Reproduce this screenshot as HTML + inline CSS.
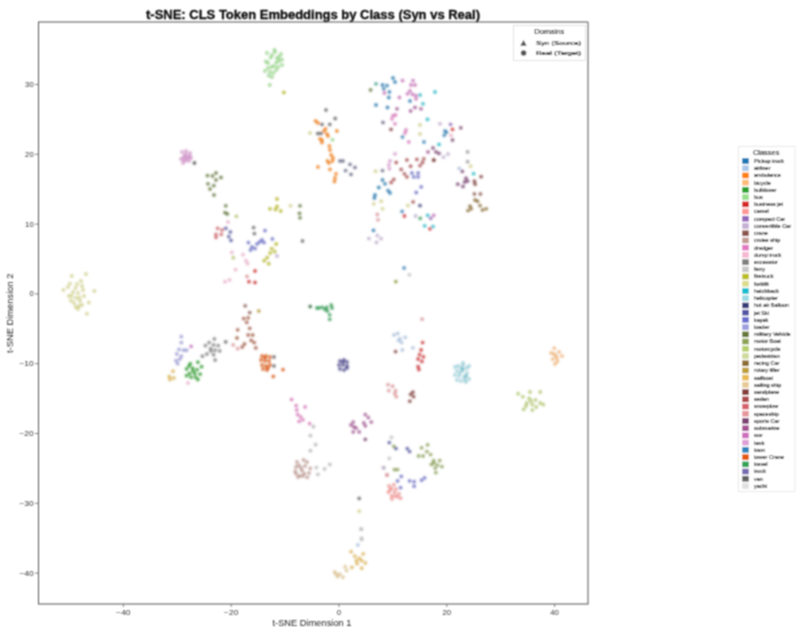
<!DOCTYPE html><html><head><meta charset="utf-8"><style>html,body{margin:0;padding:0;background:#fff;width:800px;height:638px;overflow:hidden}svg{display:block}text{font-family:"Liberation Sans", sans-serif}</style></head><body>
<svg width="800" height="638" viewBox="0 0 800 638">
<defs><filter id="bl" filterUnits="userSpaceOnUse" x="0" y="0" width="800" height="638"><feGaussianBlur stdDeviation="1.0"/></filter><filter id="tb" filterUnits="userSpaceOnUse" x="0" y="0" width="800" height="638"><feConvolveMatrix order="3" kernelMatrix="1 2 1 2 4 2 1 2 1" preserveAlpha="false" edgeMode="none"/></filter></defs>
<rect width="800" height="638" fill="#fff"/>
<g filter="url(#tb)">
<text x="313" y="18.8" font-size="12.5" font-weight="bold" text-anchor="middle" fill="#111" stroke="#111" stroke-width="0.35" textLength="334" lengthAdjust="spacingAndGlyphs">t-SNE: CLS Token Embeddings by Class (Syn vs Real)</text>
<path d="M38.5,22 V604 M38,22 H588 M588,22 V604 M38,604 H588.5" fill="none" stroke="#555" stroke-width="1"/>
<line x1="123.4" y1="604" x2="123.4" y2="607" stroke="#666" stroke-width="0.8"/>
<text x="123.4" y="614.8" font-size="6.8" text-anchor="middle" fill="#333" textLength="14.3" lengthAdjust="spacingAndGlyphs">−40</text>
<line x1="231.2" y1="604" x2="231.2" y2="607" stroke="#666" stroke-width="0.8"/>
<text x="231.2" y="614.8" font-size="6.8" text-anchor="middle" fill="#333" textLength="14.3" lengthAdjust="spacingAndGlyphs">−20</text>
<line x1="339.0" y1="604" x2="339.0" y2="607" stroke="#666" stroke-width="0.8"/>
<text x="339.0" y="614.8" font-size="6.8" text-anchor="middle" fill="#333" textLength="4.3" lengthAdjust="spacingAndGlyphs">0</text>
<line x1="446.8" y1="604" x2="446.8" y2="607" stroke="#666" stroke-width="0.8"/>
<text x="446.8" y="614.8" font-size="6.8" text-anchor="middle" fill="#333" textLength="8.6" lengthAdjust="spacingAndGlyphs">20</text>
<line x1="554.6" y1="604" x2="554.6" y2="607" stroke="#666" stroke-width="0.8"/>
<text x="554.6" y="614.8" font-size="6.8" text-anchor="middle" fill="#333" textLength="8.6" lengthAdjust="spacingAndGlyphs">40</text>
<line x1="35" y1="84.5" x2="38.5" y2="84.5" stroke="#666" stroke-width="0.8"/>
<text x="25.1" y="86.9" font-size="6.8" fill="#333" textLength="8.6" lengthAdjust="spacingAndGlyphs">30</text>
<line x1="35" y1="154.3" x2="38.5" y2="154.3" stroke="#666" stroke-width="0.8"/>
<text x="25.1" y="156.7" font-size="6.8" fill="#333" textLength="8.6" lengthAdjust="spacingAndGlyphs">20</text>
<line x1="35" y1="224.1" x2="38.5" y2="224.1" stroke="#666" stroke-width="0.8"/>
<text x="25.1" y="226.5" font-size="6.8" fill="#333" textLength="8.6" lengthAdjust="spacingAndGlyphs">10</text>
<line x1="35" y1="293.9" x2="38.5" y2="293.9" stroke="#666" stroke-width="0.8"/>
<text x="29.4" y="296.3" font-size="6.8" fill="#333" textLength="4.3" lengthAdjust="spacingAndGlyphs">0</text>
<line x1="35" y1="363.7" x2="38.5" y2="363.7" stroke="#666" stroke-width="0.8"/>
<text x="19.4" y="366.1" font-size="6.8" fill="#333" textLength="14.3" lengthAdjust="spacingAndGlyphs">−10</text>
<line x1="35" y1="433.5" x2="38.5" y2="433.5" stroke="#666" stroke-width="0.8"/>
<text x="19.4" y="435.9" font-size="6.8" fill="#333" textLength="14.3" lengthAdjust="spacingAndGlyphs">−20</text>
<line x1="35" y1="503.3" x2="38.5" y2="503.3" stroke="#666" stroke-width="0.8"/>
<text x="19.4" y="505.7" font-size="6.8" fill="#333" textLength="14.3" lengthAdjust="spacingAndGlyphs">−30</text>
<line x1="35" y1="573.1" x2="38.5" y2="573.1" stroke="#666" stroke-width="0.8"/>
<text x="19.4" y="575.5" font-size="6.8" fill="#333" textLength="14.3" lengthAdjust="spacingAndGlyphs">−40</text>
<text x="312" y="626" font-size="8.6" text-anchor="middle" fill="#222" textLength="79" lengthAdjust="spacingAndGlyphs">t-SNE Dimension 1</text>
<text x="0" y="0" font-size="8.6" text-anchor="middle" fill="#222" textLength="79.5" lengthAdjust="spacingAndGlyphs" transform="translate(13,313.3) rotate(-90)">t-SNE Dimension 2</text>
<rect x="513.5" y="25.5" width="72" height="35" fill="#fff" stroke="#ddd" stroke-width="0.8"/>
<text x="549.2" y="34.3" font-size="6.5" text-anchor="middle" fill="#111" stroke="#111" stroke-width="0.12" textLength="30" lengthAdjust="spacingAndGlyphs">Domains</text>
<path d="M523.5,40 L526.7,45.8 L520.3,45.8 Z" fill="#555"/>
<circle cx="523.6" cy="53" r="2.8" fill="#555"/>
<text x="536" y="45" font-size="6.2" fill="#111" stroke="#111" stroke-width="0.22" textLength="45" lengthAdjust="spacingAndGlyphs">Syn (Source)</text>
<text x="536" y="55" font-size="6.2" fill="#111" stroke="#111" stroke-width="0.22" textLength="45" lengthAdjust="spacingAndGlyphs">Real (Target)</text>
<rect x="738.5" y="146.5" width="56.5" height="345" fill="#fff" stroke="#e4e4e4" stroke-width="0.8"/>
<text x="766.2" y="155.4" font-size="6.5" text-anchor="middle" fill="#111" stroke="#111" stroke-width="0.12" textLength="26.5" lengthAdjust="spacingAndGlyphs">Classes</text>
<rect x="742.2" y="158.20" width="6.6" height="5.6" fill="#1f77b4"/>
<text x="754" y="162.90" font-size="5.5" fill="#111" stroke="#111" stroke-width="0.15">Pickup truck</text>
<rect x="742.2" y="165.42" width="6.6" height="5.6" fill="#aec7e8"/>
<text x="754" y="170.12" font-size="5.5" fill="#111" stroke="#111" stroke-width="0.15">airliner</text>
<rect x="742.2" y="172.64" width="6.6" height="5.6" fill="#ff7f0e"/>
<text x="754" y="177.34" font-size="5.5" fill="#111" stroke="#111" stroke-width="0.15">ambulance</text>
<rect x="742.2" y="179.87" width="6.6" height="5.6" fill="#ffbb78"/>
<text x="754" y="184.57" font-size="5.5" fill="#111" stroke="#111" stroke-width="0.15">bicycle</text>
<rect x="742.2" y="187.09" width="6.6" height="5.6" fill="#2ca02c"/>
<text x="754" y="191.79" font-size="5.5" fill="#111" stroke="#111" stroke-width="0.15">bulldozer</text>
<rect x="742.2" y="194.31" width="6.6" height="5.6" fill="#98df8a"/>
<text x="754" y="199.01" font-size="5.5" fill="#111" stroke="#111" stroke-width="0.15">bus</text>
<rect x="742.2" y="201.53" width="6.6" height="5.6" fill="#d62728"/>
<text x="754" y="206.23" font-size="5.5" fill="#111" stroke="#111" stroke-width="0.15">business jet</text>
<rect x="742.2" y="208.75" width="6.6" height="5.6" fill="#ff9896"/>
<text x="754" y="213.45" font-size="5.5" fill="#111" stroke="#111" stroke-width="0.15">camel</text>
<rect x="742.2" y="215.98" width="6.6" height="5.6" fill="#9467bd"/>
<text x="754" y="220.68" font-size="5.5" fill="#111" stroke="#111" stroke-width="0.15">compact Car</text>
<rect x="742.2" y="223.20" width="6.6" height="5.6" fill="#c5b0d5"/>
<text x="754" y="227.90" font-size="5.5" fill="#111" stroke="#111" stroke-width="0.15">convertible Car</text>
<rect x="742.2" y="230.42" width="6.6" height="5.6" fill="#8c564b"/>
<text x="754" y="235.12" font-size="5.5" fill="#111" stroke="#111" stroke-width="0.15">crane</text>
<rect x="742.2" y="237.64" width="6.6" height="5.6" fill="#c49c94"/>
<text x="754" y="242.34" font-size="5.5" fill="#111" stroke="#111" stroke-width="0.15">cruise ship</text>
<rect x="742.2" y="244.86" width="6.6" height="5.6" fill="#e377c2"/>
<text x="754" y="249.56" font-size="5.5" fill="#111" stroke="#111" stroke-width="0.15">dredger</text>
<rect x="742.2" y="252.09" width="6.6" height="5.6" fill="#f7b6d2"/>
<text x="754" y="256.79" font-size="5.5" fill="#111" stroke="#111" stroke-width="0.15">dump truck</text>
<rect x="742.2" y="259.31" width="6.6" height="5.6" fill="#7f7f7f"/>
<text x="754" y="264.01" font-size="5.5" fill="#111" stroke="#111" stroke-width="0.15">excavator</text>
<rect x="742.2" y="266.53" width="6.6" height="5.6" fill="#c7c7c7"/>
<text x="754" y="271.23" font-size="5.5" fill="#111" stroke="#111" stroke-width="0.15">ferry</text>
<rect x="742.2" y="273.75" width="6.6" height="5.6" fill="#bcbd22"/>
<text x="754" y="278.45" font-size="5.5" fill="#111" stroke="#111" stroke-width="0.15">firetruck</text>
<rect x="742.2" y="280.97" width="6.6" height="5.6" fill="#dbdb8d"/>
<text x="754" y="285.67" font-size="5.5" fill="#111" stroke="#111" stroke-width="0.15">forklift</text>
<rect x="742.2" y="288.20" width="6.6" height="5.6" fill="#17becf"/>
<text x="754" y="292.90" font-size="5.5" fill="#111" stroke="#111" stroke-width="0.15">hatchback</text>
<rect x="742.2" y="295.42" width="6.6" height="5.6" fill="#9edae5"/>
<text x="754" y="300.12" font-size="5.5" fill="#111" stroke="#111" stroke-width="0.15">helicopter</text>
<rect x="742.2" y="302.64" width="6.6" height="5.6" fill="#393b79"/>
<text x="754" y="307.34" font-size="5.5" fill="#111" stroke="#111" stroke-width="0.15">hot air Balloon</text>
<rect x="742.2" y="309.86" width="6.6" height="5.6" fill="#5254a3"/>
<text x="754" y="314.56" font-size="5.5" fill="#111" stroke="#111" stroke-width="0.15">jet Ski</text>
<rect x="742.2" y="317.08" width="6.6" height="5.6" fill="#6b6ecf"/>
<text x="754" y="321.78" font-size="5.5" fill="#111" stroke="#111" stroke-width="0.15">kayak</text>
<rect x="742.2" y="324.31" width="6.6" height="5.6" fill="#9c9ede"/>
<text x="754" y="329.01" font-size="5.5" fill="#111" stroke="#111" stroke-width="0.15">loader</text>
<rect x="742.2" y="331.53" width="6.6" height="5.6" fill="#637939"/>
<text x="754" y="336.23" font-size="5.5" fill="#111" stroke="#111" stroke-width="0.15">military Vehicle</text>
<rect x="742.2" y="338.75" width="6.6" height="5.6" fill="#8ca252"/>
<text x="754" y="343.45" font-size="5.5" fill="#111" stroke="#111" stroke-width="0.15">motor Boat</text>
<rect x="742.2" y="345.97" width="6.6" height="5.6" fill="#b5cf6b"/>
<text x="754" y="350.67" font-size="5.5" fill="#111" stroke="#111" stroke-width="0.15">motorcycle</text>
<rect x="742.2" y="353.19" width="6.6" height="5.6" fill="#cedb9c"/>
<text x="754" y="357.89" font-size="5.5" fill="#111" stroke="#111" stroke-width="0.15">pedestrian</text>
<rect x="742.2" y="360.42" width="6.6" height="5.6" fill="#8c6d31"/>
<text x="754" y="365.12" font-size="5.5" fill="#111" stroke="#111" stroke-width="0.15">racing Car</text>
<rect x="742.2" y="367.64" width="6.6" height="5.6" fill="#bd9e39"/>
<text x="754" y="372.34" font-size="5.5" fill="#111" stroke="#111" stroke-width="0.15">rotary tiller</text>
<rect x="742.2" y="374.86" width="6.6" height="5.6" fill="#e7ba52"/>
<text x="754" y="379.56" font-size="5.5" fill="#111" stroke="#111" stroke-width="0.15">sailboat</text>
<rect x="742.2" y="382.08" width="6.6" height="5.6" fill="#e7cb94"/>
<text x="754" y="386.78" font-size="5.5" fill="#111" stroke="#111" stroke-width="0.15">sailing ship</text>
<rect x="742.2" y="389.30" width="6.6" height="5.6" fill="#843c39"/>
<text x="754" y="394.00" font-size="5.5" fill="#111" stroke="#111" stroke-width="0.15">sandplane</text>
<rect x="742.2" y="396.53" width="6.6" height="5.6" fill="#ad494a"/>
<text x="754" y="401.23" font-size="5.5" fill="#111" stroke="#111" stroke-width="0.15">sedan</text>
<rect x="742.2" y="403.75" width="6.6" height="5.6" fill="#d6616b"/>
<text x="754" y="408.45" font-size="5.5" fill="#111" stroke="#111" stroke-width="0.15">snowplow</text>
<rect x="742.2" y="410.97" width="6.6" height="5.6" fill="#e7969c"/>
<text x="754" y="415.67" font-size="5.5" fill="#111" stroke="#111" stroke-width="0.15">spaceship</text>
<rect x="742.2" y="418.19" width="6.6" height="5.6" fill="#7b4173"/>
<text x="754" y="422.89" font-size="5.5" fill="#111" stroke="#111" stroke-width="0.15">sports Car</text>
<rect x="742.2" y="425.41" width="6.6" height="5.6" fill="#a55194"/>
<text x="754" y="430.11" font-size="5.5" fill="#111" stroke="#111" stroke-width="0.15">submarine</text>
<rect x="742.2" y="432.64" width="6.6" height="5.6" fill="#ce6dbd"/>
<text x="754" y="437.34" font-size="5.5" fill="#111" stroke="#111" stroke-width="0.15">suv</text>
<rect x="742.2" y="439.86" width="6.6" height="5.6" fill="#de9ed6"/>
<text x="754" y="444.56" font-size="5.5" fill="#111" stroke="#111" stroke-width="0.15">tank</text>
<rect x="742.2" y="447.08" width="6.6" height="5.6" fill="#3182bd"/>
<text x="754" y="451.78" font-size="5.5" fill="#111" stroke="#111" stroke-width="0.15">tram</text>
<rect x="742.2" y="454.30" width="6.6" height="5.6" fill="#e6550d"/>
<text x="754" y="459.00" font-size="5.5" fill="#111" stroke="#111" stroke-width="0.15">tower Crane</text>
<rect x="742.2" y="461.52" width="6.6" height="5.6" fill="#31a354"/>
<text x="754" y="466.22" font-size="5.5" fill="#111" stroke="#111" stroke-width="0.15">travel</text>
<rect x="742.2" y="468.75" width="6.6" height="5.6" fill="#756bb1"/>
<text x="754" y="473.45" font-size="5.5" fill="#111" stroke="#111" stroke-width="0.15">truck</text>
<rect x="742.2" y="475.97" width="6.6" height="5.6" fill="#636363"/>
<text x="754" y="480.67" font-size="5.5" fill="#111" stroke="#111" stroke-width="0.15">van</text>
<rect x="742.2" y="483.19" width="6.6" height="5.6" fill="#e0e0e0"/>
<text x="754" y="487.89" font-size="5.5" fill="#111" stroke="#111" stroke-width="0.15">yacht</text>
</g>
<g filter="url(#bl)" fill-opacity="0.85" stroke-width="0.5" stroke-opacity="0.35">
<circle cx="274.5" cy="50.0" r="1.65" fill="#98df8a" stroke="#5b8552"/>
<circle cx="267.0" cy="53.0" r="1.65" fill="#98df8a" stroke="#5b8552"/>
<circle cx="281.0" cy="54.0" r="1.65" fill="#98df8a" stroke="#5b8552"/>
<circle cx="270.7" cy="57.7" r="1.65" fill="#98df8a" stroke="#5b8552"/>
<circle cx="282.0" cy="59.6" r="1.65" fill="#98df8a" stroke="#5b8552"/>
<circle cx="266.0" cy="61.5" r="1.65" fill="#98df8a" stroke="#5b8552"/>
<circle cx="276.3" cy="62.4" r="1.65" fill="#98df8a" stroke="#5b8552"/>
<circle cx="282.0" cy="65.0" r="1.65" fill="#98df8a" stroke="#5b8552"/>
<circle cx="271.6" cy="67.0" r="1.65" fill="#98df8a" stroke="#5b8552"/>
<circle cx="265.0" cy="71.0" r="1.65" fill="#98df8a" stroke="#5b8552"/>
<circle cx="276.3" cy="70.0" r="1.65" fill="#98df8a" stroke="#5b8552"/>
<circle cx="268.8" cy="75.6" r="1.65" fill="#98df8a" stroke="#5b8552"/>
<circle cx="273.5" cy="72.8" r="1.65" fill="#98df8a" stroke="#5b8552"/>
<circle cx="279.0" cy="56.8" r="1.65" fill="#98df8a" stroke="#5b8552"/>
<circle cx="269.8" cy="85.0" r="1.65" fill="#98df8a" stroke="#5b8552"/>
<circle cx="272.0" cy="55.0" r="1.65" fill="#98df8a" stroke="#5b8552"/>
<circle cx="277.0" cy="58.0" r="1.65" fill="#98df8a" stroke="#5b8552"/>
<circle cx="274.0" cy="66.0" r="1.65" fill="#98df8a" stroke="#5b8552"/>
<circle cx="268.0" cy="63.0" r="1.65" fill="#98df8a" stroke="#5b8552"/>
<circle cx="278.0" cy="67.0" r="1.65" fill="#98df8a" stroke="#5b8552"/>
<circle cx="270.0" cy="72.0" r="1.65" fill="#98df8a" stroke="#5b8552"/>
<circle cx="272.0" cy="77.0" r="1.65" fill="#98df8a" stroke="#5b8552"/>
<circle cx="279.0" cy="61.0" r="1.65" fill="#98df8a" stroke="#5b8552"/>
<circle cx="275.0" cy="52.0" r="1.65" fill="#98df8a" stroke="#5b8552"/>
<circle cx="268.0" cy="68.0" r="1.65" fill="#98df8a" stroke="#5b8552"/>
<circle cx="283.9" cy="92.5" r="1.65" fill="#bcbd22" stroke="#707114"/>
<circle cx="326.0" cy="110.0" r="1.65" fill="#636363" stroke="#3b3b3b"/>
<circle cx="335.2" cy="118.5" r="1.65" fill="#636363" stroke="#3b3b3b"/>
<circle cx="322.0" cy="124.4" r="1.65" fill="#636363" stroke="#3b3b3b"/>
<circle cx="329.8" cy="124.4" r="1.65" fill="#636363" stroke="#3b3b3b"/>
<circle cx="317.8" cy="133.5" r="1.65" fill="#636363" stroke="#3b3b3b"/>
<circle cx="321.0" cy="133.5" r="1.65" fill="#636363" stroke="#3b3b3b"/>
<circle cx="315.6" cy="121.0" r="1.65" fill="#ff7f0e" stroke="#994c08"/>
<circle cx="325.6" cy="128.8" r="1.65" fill="#ff7f0e" stroke="#994c08"/>
<circle cx="336.9" cy="131.0" r="1.65" fill="#ff7f0e" stroke="#994c08"/>
<circle cx="326.9" cy="133.8" r="1.65" fill="#ff7f0e" stroke="#994c08"/>
<circle cx="320.0" cy="138.8" r="1.65" fill="#ff7f0e" stroke="#994c08"/>
<circle cx="321.9" cy="142.5" r="1.65" fill="#ff7f0e" stroke="#994c08"/>
<circle cx="329.4" cy="146.0" r="1.65" fill="#ff7f0e" stroke="#994c08"/>
<circle cx="331.2" cy="155.0" r="1.65" fill="#ff7f0e" stroke="#994c08"/>
<circle cx="327.5" cy="161.0" r="1.65" fill="#ff7f0e" stroke="#994c08"/>
<circle cx="332.5" cy="161.0" r="1.65" fill="#ff7f0e" stroke="#994c08"/>
<circle cx="318.0" cy="167.0" r="1.65" fill="#ff7f0e" stroke="#994c08"/>
<circle cx="330.0" cy="169.4" r="1.65" fill="#ff7f0e" stroke="#994c08"/>
<circle cx="336.0" cy="173.8" r="1.65" fill="#ff7f0e" stroke="#994c08"/>
<circle cx="335.0" cy="178.0" r="1.65" fill="#ff7f0e" stroke="#994c08"/>
<circle cx="318.0" cy="123.0" r="1.65" fill="#ff7f0e" stroke="#994c08"/>
<circle cx="324.0" cy="131.0" r="1.65" fill="#ff7f0e" stroke="#994c08"/>
<circle cx="322.0" cy="140.0" r="1.65" fill="#ff7f0e" stroke="#994c08"/>
<circle cx="330.0" cy="150.0" r="1.65" fill="#ff7f0e" stroke="#994c08"/>
<circle cx="333.0" cy="158.0" r="1.65" fill="#ff7f0e" stroke="#994c08"/>
<circle cx="329.0" cy="163.0" r="1.65" fill="#ff7f0e" stroke="#994c08"/>
<circle cx="328.0" cy="136.0" r="1.65" fill="#ff7f0e" stroke="#994c08"/>
<circle cx="310.0" cy="133.0" r="1.65" fill="#dbdb8d" stroke="#838354"/>
<circle cx="332.5" cy="139.8" r="1.65" fill="#98df8a" stroke="#5b8552"/>
<circle cx="340.0" cy="161.0" r="1.65" fill="#666a88" stroke="#3d3f51"/>
<circle cx="343.0" cy="161.0" r="1.65" fill="#666a88" stroke="#3d3f51"/>
<circle cx="350.0" cy="164.4" r="1.65" fill="#666a88" stroke="#3d3f51"/>
<circle cx="355.0" cy="167.5" r="1.65" fill="#666a88" stroke="#3d3f51"/>
<circle cx="345.6" cy="170.6" r="1.65" fill="#666a88" stroke="#3d3f51"/>
<circle cx="351.0" cy="174.4" r="1.65" fill="#666a88" stroke="#3d3f51"/>
<circle cx="370.6" cy="90.0" r="1.65" fill="#637939" stroke="#3b4822"/>
<circle cx="376.0" cy="83.8" r="1.65" fill="#3aa58a" stroke="#226352"/>
<circle cx="393.0" cy="78.0" r="1.65" fill="#1f77b4" stroke="#12476c"/>
<circle cx="395.0" cy="82.0" r="1.65" fill="#1f77b4" stroke="#12476c"/>
<circle cx="382.5" cy="85.0" r="1.65" fill="#1f77b4" stroke="#12476c"/>
<circle cx="387.0" cy="85.6" r="1.65" fill="#1f77b4" stroke="#12476c"/>
<circle cx="383.8" cy="88.8" r="1.65" fill="#1f77b4" stroke="#12476c"/>
<circle cx="389.4" cy="92.0" r="1.65" fill="#1f77b4" stroke="#12476c"/>
<circle cx="388.8" cy="97.5" r="1.65" fill="#1f77b4" stroke="#12476c"/>
<circle cx="376.0" cy="105.0" r="1.65" fill="#1f77b4" stroke="#12476c"/>
<circle cx="387.5" cy="107.5" r="1.65" fill="#1f77b4" stroke="#12476c"/>
<circle cx="410.0" cy="101.0" r="1.65" fill="#1f77b4" stroke="#12476c"/>
<circle cx="383.0" cy="122.5" r="1.65" fill="#666a88" stroke="#3d3f51"/>
<circle cx="402.5" cy="80.6" r="1.65" fill="#ce6dbd" stroke="#7b4171"/>
<circle cx="413.0" cy="80.6" r="1.65" fill="#ce6dbd" stroke="#7b4171"/>
<circle cx="411.0" cy="85.0" r="1.65" fill="#ce6dbd" stroke="#7b4171"/>
<circle cx="415.0" cy="85.0" r="1.65" fill="#ce6dbd" stroke="#7b4171"/>
<circle cx="407.5" cy="93.8" r="1.65" fill="#ce6dbd" stroke="#7b4171"/>
<circle cx="412.5" cy="94.4" r="1.65" fill="#ce6dbd" stroke="#7b4171"/>
<circle cx="416.0" cy="95.6" r="1.65" fill="#ce6dbd" stroke="#7b4171"/>
<circle cx="410.0" cy="91.0" r="1.65" fill="#ce6dbd" stroke="#7b4171"/>
<circle cx="399.4" cy="97.5" r="1.65" fill="#ce6dbd" stroke="#7b4171"/>
<circle cx="416.0" cy="98.8" r="1.65" fill="#ce6dbd" stroke="#7b4171"/>
<circle cx="384.4" cy="93.0" r="1.65" fill="#ce6dbd" stroke="#7b4171"/>
<circle cx="397.0" cy="108.8" r="1.65" fill="#a55194" stroke="#633058"/>
<circle cx="415.0" cy="107.5" r="1.65" fill="#a55194" stroke="#633058"/>
<circle cx="421.0" cy="108.8" r="1.65" fill="#a55194" stroke="#633058"/>
<circle cx="410.6" cy="111.0" r="1.65" fill="#a55194" stroke="#633058"/>
<circle cx="393.0" cy="115.6" r="1.65" fill="#e377c2" stroke="#884774"/>
<circle cx="395.6" cy="115.0" r="1.65" fill="#e377c2" stroke="#884774"/>
<circle cx="392.0" cy="118.8" r="1.65" fill="#e377c2" stroke="#884774"/>
<circle cx="395.0" cy="123.8" r="1.65" fill="#e377c2" stroke="#884774"/>
<circle cx="406.0" cy="130.0" r="1.65" fill="#e377c2" stroke="#884774"/>
<circle cx="405.0" cy="133.0" r="1.65" fill="#e377c2" stroke="#884774"/>
<circle cx="408.8" cy="142.0" r="1.65" fill="#e377c2" stroke="#884774"/>
<circle cx="420.0" cy="95.0" r="1.65" fill="#17becf" stroke="#0d727c"/>
<circle cx="423.0" cy="103.8" r="1.65" fill="#17becf" stroke="#0d727c"/>
<circle cx="427.5" cy="119.4" r="1.65" fill="#17becf" stroke="#0d727c"/>
<circle cx="435.0" cy="92.0" r="1.65" fill="#17becf" stroke="#0d727c"/>
<circle cx="391.0" cy="129.4" r="1.65" fill="#843c39" stroke="#4f2422"/>
<circle cx="420.0" cy="125.0" r="1.65" fill="#dbdb8d" stroke="#838354"/>
<circle cx="420.0" cy="134.0" r="1.65" fill="#dbdb8d" stroke="#838354"/>
<circle cx="402.5" cy="137.0" r="1.65" fill="#3182bd" stroke="#1d4e71"/>
<circle cx="424.0" cy="142.0" r="1.65" fill="#3182bd" stroke="#1d4e71"/>
<circle cx="440.0" cy="123.8" r="1.65" fill="#c5b0d5" stroke="#76697f"/>
<circle cx="450.6" cy="124.4" r="1.65" fill="#9467bd" stroke="#583d71"/>
<circle cx="445.0" cy="131.0" r="1.65" fill="#3182bd" stroke="#1d4e71"/>
<circle cx="452.5" cy="129.4" r="1.65" fill="#d62728" stroke="#801718"/>
<circle cx="452.5" cy="140.0" r="1.65" fill="#7b4173" stroke="#492745"/>
<circle cx="182.0" cy="152.0" r="1.65" fill="#de9ed6" stroke="#855e80"/>
<circle cx="186.0" cy="151.0" r="1.65" fill="#de9ed6" stroke="#855e80"/>
<circle cx="190.0" cy="153.0" r="1.65" fill="#de9ed6" stroke="#855e80"/>
<circle cx="184.0" cy="156.0" r="1.65" fill="#de9ed6" stroke="#855e80"/>
<circle cx="188.0" cy="157.0" r="1.65" fill="#de9ed6" stroke="#855e80"/>
<circle cx="181.0" cy="159.0" r="1.65" fill="#de9ed6" stroke="#855e80"/>
<circle cx="185.0" cy="161.0" r="1.65" fill="#de9ed6" stroke="#855e80"/>
<circle cx="189.0" cy="161.0" r="1.65" fill="#de9ed6" stroke="#855e80"/>
<circle cx="183.0" cy="163.0" r="1.65" fill="#de9ed6" stroke="#855e80"/>
<circle cx="191.0" cy="158.0" r="1.65" fill="#de9ed6" stroke="#855e80"/>
<circle cx="194.4" cy="163.0" r="1.65" fill="#444444" stroke="#282828"/>
<circle cx="216.0" cy="173.0" r="1.65" fill="#637939" stroke="#3b4822"/>
<circle cx="207.5" cy="175.6" r="1.65" fill="#637939" stroke="#3b4822"/>
<circle cx="212.5" cy="176.0" r="1.65" fill="#637939" stroke="#3b4822"/>
<circle cx="221.0" cy="177.5" r="1.65" fill="#637939" stroke="#3b4822"/>
<circle cx="216.0" cy="180.0" r="1.65" fill="#637939" stroke="#3b4822"/>
<circle cx="208.0" cy="183.8" r="1.65" fill="#637939" stroke="#3b4822"/>
<circle cx="213.8" cy="185.6" r="1.65" fill="#637939" stroke="#3b4822"/>
<circle cx="210.0" cy="189.0" r="1.65" fill="#637939" stroke="#3b4822"/>
<circle cx="214.0" cy="195.0" r="1.65" fill="#637939" stroke="#3b4822"/>
<circle cx="225.8" cy="205.8" r="1.65" fill="#637939" stroke="#3b4822"/>
<circle cx="225.0" cy="212.6" r="1.65" fill="#637939" stroke="#3b4822"/>
<circle cx="227.3" cy="214.0" r="1.65" fill="#637939" stroke="#3b4822"/>
<circle cx="236.4" cy="216.3" r="1.65" fill="#b5cf6b" stroke="#6c7c40"/>
<circle cx="277.0" cy="199.0" r="1.65" fill="#bcbd22" stroke="#707114"/>
<circle cx="270.0" cy="208.8" r="1.65" fill="#bcbd22" stroke="#707114"/>
<circle cx="277.0" cy="206.5" r="1.65" fill="#bcbd22" stroke="#707114"/>
<circle cx="280.7" cy="211.0" r="1.65" fill="#bcbd22" stroke="#707114"/>
<circle cx="275.5" cy="209.5" r="1.65" fill="#bcbd22" stroke="#707114"/>
<circle cx="290.5" cy="205.8" r="1.65" fill="#dbdb8d" stroke="#838354"/>
<circle cx="300.0" cy="205.8" r="1.65" fill="#637939" stroke="#3b4822"/>
<circle cx="299.5" cy="213.3" r="1.65" fill="#637939" stroke="#3b4822"/>
<circle cx="300.0" cy="217.8" r="1.65" fill="#637939" stroke="#3b4822"/>
<circle cx="302.5" cy="241.0" r="1.65" fill="#636363" stroke="#3b3b3b"/>
<circle cx="253.6" cy="227.6" r="1.65" fill="#636363" stroke="#3b3b3b"/>
<circle cx="254.4" cy="233.6" r="1.65" fill="#636363" stroke="#3b3b3b"/>
<circle cx="217.6" cy="228.3" r="1.65" fill="#d6616b" stroke="#803a40"/>
<circle cx="222.0" cy="230.0" r="1.65" fill="#d6616b" stroke="#803a40"/>
<circle cx="216.0" cy="234.4" r="1.65" fill="#d6616b" stroke="#803a40"/>
<circle cx="221.3" cy="234.4" r="1.65" fill="#d6616b" stroke="#803a40"/>
<circle cx="216.0" cy="237.4" r="1.65" fill="#d6616b" stroke="#803a40"/>
<circle cx="230.3" cy="232.0" r="1.65" fill="#5254a3" stroke="#313261"/>
<circle cx="228.8" cy="236.6" r="1.65" fill="#5254a3" stroke="#313261"/>
<circle cx="231.0" cy="240.4" r="1.65" fill="#5254a3" stroke="#313261"/>
<circle cx="225.8" cy="228.3" r="1.65" fill="#5254a3" stroke="#313261"/>
<circle cx="265.0" cy="230.6" r="1.65" fill="#6b6ecf" stroke="#40427c"/>
<circle cx="272.4" cy="238.9" r="1.65" fill="#6b6ecf" stroke="#40427c"/>
<circle cx="248.4" cy="242.6" r="1.65" fill="#6b6ecf" stroke="#40427c"/>
<circle cx="259.7" cy="241.9" r="1.65" fill="#6b6ecf" stroke="#40427c"/>
<circle cx="264.0" cy="242.6" r="1.65" fill="#6b6ecf" stroke="#40427c"/>
<circle cx="252.0" cy="247.0" r="1.65" fill="#6b6ecf" stroke="#40427c"/>
<circle cx="255.0" cy="248.6" r="1.65" fill="#6b6ecf" stroke="#40427c"/>
<circle cx="250.6" cy="250.0" r="1.65" fill="#6b6ecf" stroke="#40427c"/>
<circle cx="257.0" cy="244.0" r="1.65" fill="#6b6ecf" stroke="#40427c"/>
<circle cx="262.0" cy="240.0" r="1.65" fill="#6b6ecf" stroke="#40427c"/>
<circle cx="276.2" cy="244.0" r="1.65" fill="#bcbd22" stroke="#707114"/>
<circle cx="271.7" cy="248.6" r="1.65" fill="#bcbd22" stroke="#707114"/>
<circle cx="270.2" cy="253.0" r="1.65" fill="#bcbd22" stroke="#707114"/>
<circle cx="267.2" cy="257.7" r="1.65" fill="#bcbd22" stroke="#707114"/>
<circle cx="264.2" cy="260.7" r="1.65" fill="#bcbd22" stroke="#707114"/>
<circle cx="268.7" cy="263.7" r="1.65" fill="#bcbd22" stroke="#707114"/>
<circle cx="274.7" cy="251.6" r="1.65" fill="#bcbd22" stroke="#707114"/>
<circle cx="277.0" cy="256.0" r="1.65" fill="#c5b0d5" stroke="#76697f"/>
<circle cx="231.8" cy="252.4" r="1.65" fill="#f7b6d2" stroke="#946d7e"/>
<circle cx="243.0" cy="254.7" r="1.65" fill="#f7b6d2" stroke="#946d7e"/>
<circle cx="246.0" cy="260.7" r="1.65" fill="#f7b6d2" stroke="#946d7e"/>
<circle cx="247.6" cy="263.7" r="1.65" fill="#f7b6d2" stroke="#946d7e"/>
<circle cx="235.6" cy="269.7" r="1.65" fill="#f7b6d2" stroke="#946d7e"/>
<circle cx="229.6" cy="280.0" r="1.65" fill="#f7b6d2" stroke="#946d7e"/>
<circle cx="225.0" cy="281.7" r="1.65" fill="#f7b6d2" stroke="#946d7e"/>
<circle cx="233.3" cy="257.7" r="1.65" fill="#b5cf6b" stroke="#6c7c40"/>
<circle cx="255.0" cy="271.0" r="1.65" fill="#d62728" stroke="#801718"/>
<circle cx="249.0" cy="281.7" r="1.65" fill="#d62728" stroke="#801718"/>
<circle cx="255.0" cy="282.5" r="1.65" fill="#d62728" stroke="#801718"/>
<circle cx="247.0" cy="276.5" r="1.65" fill="#e7969c" stroke="#8a5a5d"/>
<circle cx="71.8" cy="276.0" r="1.65" fill="#dbdb8d" stroke="#838354"/>
<circle cx="86.0" cy="274.0" r="1.65" fill="#dbdb8d" stroke="#838354"/>
<circle cx="81.0" cy="281.0" r="1.65" fill="#dbdb8d" stroke="#838354"/>
<circle cx="70.0" cy="283.6" r="1.65" fill="#dbdb8d" stroke="#838354"/>
<circle cx="63.4" cy="290.0" r="1.65" fill="#dbdb8d" stroke="#838354"/>
<circle cx="75.6" cy="288.0" r="1.65" fill="#dbdb8d" stroke="#838354"/>
<circle cx="83.0" cy="290.0" r="1.65" fill="#dbdb8d" stroke="#838354"/>
<circle cx="94.4" cy="291.0" r="1.65" fill="#dbdb8d" stroke="#838354"/>
<circle cx="71.8" cy="295.8" r="1.65" fill="#dbdb8d" stroke="#838354"/>
<circle cx="79.4" cy="297.7" r="1.65" fill="#dbdb8d" stroke="#838354"/>
<circle cx="88.8" cy="302.4" r="1.65" fill="#dbdb8d" stroke="#838354"/>
<circle cx="75.6" cy="307.0" r="1.65" fill="#dbdb8d" stroke="#838354"/>
<circle cx="82.0" cy="305.0" r="1.65" fill="#dbdb8d" stroke="#838354"/>
<circle cx="86.9" cy="313.7" r="1.65" fill="#dbdb8d" stroke="#838354"/>
<circle cx="71.0" cy="300.5" r="1.65" fill="#dbdb8d" stroke="#838354"/>
<circle cx="68.0" cy="287.0" r="1.65" fill="#dbdb8d" stroke="#838354"/>
<circle cx="73.0" cy="292.0" r="1.65" fill="#dbdb8d" stroke="#838354"/>
<circle cx="78.0" cy="293.0" r="1.65" fill="#dbdb8d" stroke="#838354"/>
<circle cx="76.0" cy="298.0" r="1.65" fill="#dbdb8d" stroke="#838354"/>
<circle cx="80.0" cy="301.0" r="1.65" fill="#dbdb8d" stroke="#838354"/>
<circle cx="74.0" cy="303.0" r="1.65" fill="#dbdb8d" stroke="#838354"/>
<circle cx="78.0" cy="309.0" r="1.65" fill="#dbdb8d" stroke="#838354"/>
<circle cx="84.0" cy="296.0" r="1.65" fill="#dbdb8d" stroke="#838354"/>
<circle cx="69.0" cy="296.0" r="1.65" fill="#dbdb8d" stroke="#838354"/>
<circle cx="77.0" cy="284.0" r="1.65" fill="#dbdb8d" stroke="#838354"/>
<circle cx="82.0" cy="286.0" r="1.65" fill="#dbdb8d" stroke="#838354"/>
<circle cx="79.0" cy="306.0" r="1.65" fill="#dbdb8d" stroke="#838354"/>
<circle cx="245.2" cy="305.8" r="1.65" fill="#8c564b" stroke="#54332d"/>
<circle cx="249.7" cy="312.6" r="1.65" fill="#8c564b" stroke="#54332d"/>
<circle cx="258.8" cy="311.0" r="1.65" fill="#bd9e39" stroke="#715e22"/>
<circle cx="243.7" cy="318.6" r="1.65" fill="#a8573f" stroke="#643425"/>
<circle cx="248.2" cy="317.8" r="1.65" fill="#a8573f" stroke="#643425"/>
<circle cx="246.7" cy="322.3" r="1.65" fill="#a8573f" stroke="#643425"/>
<circle cx="237.7" cy="329.8" r="1.65" fill="#a8573f" stroke="#643425"/>
<circle cx="249.7" cy="328.3" r="1.65" fill="#a8573f" stroke="#643425"/>
<circle cx="237.0" cy="338.0" r="1.65" fill="#a8573f" stroke="#643425"/>
<circle cx="248.2" cy="335.0" r="1.65" fill="#a8573f" stroke="#643425"/>
<circle cx="252.7" cy="335.0" r="1.65" fill="#a8573f" stroke="#643425"/>
<circle cx="251.2" cy="340.4" r="1.65" fill="#a8573f" stroke="#643425"/>
<circle cx="254.2" cy="342.6" r="1.65" fill="#a8573f" stroke="#643425"/>
<circle cx="244.5" cy="344.0" r="1.65" fill="#a8573f" stroke="#643425"/>
<circle cx="242.2" cy="347.0" r="1.65" fill="#a8573f" stroke="#643425"/>
<circle cx="255.8" cy="347.9" r="1.65" fill="#a8573f" stroke="#643425"/>
<circle cx="233.2" cy="344.9" r="1.65" fill="#e7969c" stroke="#8a5a5d"/>
<circle cx="237.7" cy="348.6" r="1.65" fill="#e7969c" stroke="#8a5a5d"/>
<circle cx="225.7" cy="341.9" r="1.65" fill="#636363" stroke="#3b3b3b"/>
<circle cx="214.4" cy="338.9" r="1.65" fill="#7f7f7f" stroke="#4c4c4c"/>
<circle cx="209.1" cy="342.6" r="1.65" fill="#7f7f7f" stroke="#4c4c4c"/>
<circle cx="205.4" cy="345.6" r="1.65" fill="#7f7f7f" stroke="#4c4c4c"/>
<circle cx="213.6" cy="344.9" r="1.65" fill="#7f7f7f" stroke="#4c4c4c"/>
<circle cx="218.2" cy="345.6" r="1.65" fill="#7f7f7f" stroke="#4c4c4c"/>
<circle cx="210.6" cy="348.6" r="1.65" fill="#7f7f7f" stroke="#4c4c4c"/>
<circle cx="215.1" cy="350.2" r="1.65" fill="#7f7f7f" stroke="#4c4c4c"/>
<circle cx="219.7" cy="350.9" r="1.65" fill="#7f7f7f" stroke="#4c4c4c"/>
<circle cx="206.9" cy="354.0" r="1.65" fill="#7f7f7f" stroke="#4c4c4c"/>
<circle cx="213.6" cy="354.7" r="1.65" fill="#7f7f7f" stroke="#4c4c4c"/>
<circle cx="202.4" cy="356.2" r="1.65" fill="#7f7f7f" stroke="#4c4c4c"/>
<circle cx="215.1" cy="360.0" r="1.65" fill="#7f7f7f" stroke="#4c4c4c"/>
<circle cx="211.0" cy="351.0" r="1.65" fill="#7f7f7f" stroke="#4c4c4c"/>
<circle cx="181.3" cy="336.6" r="1.65" fill="#9c9ede" stroke="#5d5e85"/>
<circle cx="181.3" cy="342.6" r="1.65" fill="#9c9ede" stroke="#5d5e85"/>
<circle cx="179.0" cy="349.4" r="1.65" fill="#9c9ede" stroke="#5d5e85"/>
<circle cx="183.6" cy="350.2" r="1.65" fill="#9c9ede" stroke="#5d5e85"/>
<circle cx="186.6" cy="350.2" r="1.65" fill="#9c9ede" stroke="#5d5e85"/>
<circle cx="176.8" cy="353.9" r="1.65" fill="#9c9ede" stroke="#5d5e85"/>
<circle cx="181.3" cy="356.2" r="1.65" fill="#9c9ede" stroke="#5d5e85"/>
<circle cx="179.8" cy="359.2" r="1.65" fill="#9c9ede" stroke="#5d5e85"/>
<circle cx="176.0" cy="360.7" r="1.65" fill="#9c9ede" stroke="#5d5e85"/>
<circle cx="177.6" cy="363.7" r="1.65" fill="#9c9ede" stroke="#5d5e85"/>
<circle cx="191.1" cy="346.4" r="1.65" fill="#ce6dbd" stroke="#7b4171"/>
<circle cx="190.3" cy="363.7" r="1.65" fill="#2ca02c" stroke="#1a601a"/>
<circle cx="197.9" cy="362.2" r="1.65" fill="#2ca02c" stroke="#1a601a"/>
<circle cx="201.6" cy="366.7" r="1.65" fill="#2ca02c" stroke="#1a601a"/>
<circle cx="186.6" cy="369.0" r="1.65" fill="#2ca02c" stroke="#1a601a"/>
<circle cx="192.6" cy="368.2" r="1.65" fill="#2ca02c" stroke="#1a601a"/>
<circle cx="197.1" cy="369.7" r="1.65" fill="#2ca02c" stroke="#1a601a"/>
<circle cx="189.6" cy="373.5" r="1.65" fill="#2ca02c" stroke="#1a601a"/>
<circle cx="194.8" cy="373.5" r="1.65" fill="#2ca02c" stroke="#1a601a"/>
<circle cx="200.1" cy="374.2" r="1.65" fill="#2ca02c" stroke="#1a601a"/>
<circle cx="186.6" cy="375.7" r="1.65" fill="#2ca02c" stroke="#1a601a"/>
<circle cx="191.1" cy="377.2" r="1.65" fill="#2ca02c" stroke="#1a601a"/>
<circle cx="197.9" cy="379.5" r="1.65" fill="#2ca02c" stroke="#1a601a"/>
<circle cx="195.6" cy="377.2" r="1.65" fill="#2ca02c" stroke="#1a601a"/>
<circle cx="193.0" cy="371.0" r="1.65" fill="#2ca02c" stroke="#1a601a"/>
<circle cx="189.0" cy="366.0" r="1.65" fill="#2ca02c" stroke="#1a601a"/>
<circle cx="173.0" cy="371.2" r="1.65" fill="#e7ba52" stroke="#8a6f31"/>
<circle cx="169.3" cy="376.5" r="1.65" fill="#e7ba52" stroke="#8a6f31"/>
<circle cx="173.8" cy="378.0" r="1.65" fill="#e7ba52" stroke="#8a6f31"/>
<circle cx="170.0" cy="379.5" r="1.65" fill="#e7ba52" stroke="#8a6f31"/>
<circle cx="188.0" cy="383.0" r="1.65" fill="#f7b6d2" stroke="#946d7e"/>
<circle cx="262.0" cy="356.0" r="1.65" fill="#e6550d" stroke="#8a3307"/>
<circle cx="266.0" cy="356.0" r="1.65" fill="#e6550d" stroke="#8a3307"/>
<circle cx="270.0" cy="357.0" r="1.65" fill="#e6550d" stroke="#8a3307"/>
<circle cx="261.0" cy="360.0" r="1.65" fill="#e6550d" stroke="#8a3307"/>
<circle cx="265.0" cy="361.0" r="1.65" fill="#e6550d" stroke="#8a3307"/>
<circle cx="269.0" cy="361.0" r="1.65" fill="#e6550d" stroke="#8a3307"/>
<circle cx="262.0" cy="365.0" r="1.65" fill="#e6550d" stroke="#8a3307"/>
<circle cx="266.0" cy="366.0" r="1.65" fill="#e6550d" stroke="#8a3307"/>
<circle cx="270.0" cy="365.0" r="1.65" fill="#e6550d" stroke="#8a3307"/>
<circle cx="263.0" cy="369.0" r="1.65" fill="#e6550d" stroke="#8a3307"/>
<circle cx="267.0" cy="370.0" r="1.65" fill="#e6550d" stroke="#8a3307"/>
<circle cx="265.0" cy="358.0" r="1.65" fill="#e6550d" stroke="#8a3307"/>
<circle cx="268.0" cy="368.0" r="1.65" fill="#e6550d" stroke="#8a3307"/>
<circle cx="283.0" cy="369.7" r="1.65" fill="#e6550d" stroke="#8a3307"/>
<circle cx="273.3" cy="376.5" r="1.65" fill="#e6550d" stroke="#8a3307"/>
<circle cx="274.0" cy="357.0" r="1.65" fill="#636363" stroke="#3b3b3b"/>
<circle cx="274.0" cy="366.0" r="1.65" fill="#636363" stroke="#3b3b3b"/>
<circle cx="316.9" cy="308.0" r="1.65" fill="#31a354" stroke="#1d6132"/>
<circle cx="322.2" cy="307.3" r="1.65" fill="#31a354" stroke="#1d6132"/>
<circle cx="326.7" cy="307.3" r="1.65" fill="#31a354" stroke="#1d6132"/>
<circle cx="331.2" cy="305.0" r="1.65" fill="#31a354" stroke="#1d6132"/>
<circle cx="332.0" cy="308.0" r="1.65" fill="#31a354" stroke="#1d6132"/>
<circle cx="327.4" cy="311.0" r="1.65" fill="#31a354" stroke="#1d6132"/>
<circle cx="329.7" cy="314.8" r="1.65" fill="#31a354" stroke="#1d6132"/>
<circle cx="329.7" cy="319.3" r="1.65" fill="#31a354" stroke="#1d6132"/>
<circle cx="319.0" cy="308.0" r="1.65" fill="#31a354" stroke="#1d6132"/>
<circle cx="325.0" cy="309.5" r="1.65" fill="#31a354" stroke="#1d6132"/>
<circle cx="310.2" cy="306.5" r="1.65" fill="#2f6a3a" stroke="#1c3f22"/>
<circle cx="340.0" cy="361.0" r="1.65" fill="#4a4690" stroke="#2c2a56"/>
<circle cx="344.0" cy="360.0" r="1.65" fill="#4a4690" stroke="#2c2a56"/>
<circle cx="347.0" cy="362.0" r="1.65" fill="#4a4690" stroke="#2c2a56"/>
<circle cx="339.0" cy="365.0" r="1.65" fill="#4a4690" stroke="#2c2a56"/>
<circle cx="343.0" cy="365.0" r="1.65" fill="#4a4690" stroke="#2c2a56"/>
<circle cx="347.0" cy="366.0" r="1.65" fill="#4a4690" stroke="#2c2a56"/>
<circle cx="340.0" cy="369.0" r="1.65" fill="#4a4690" stroke="#2c2a56"/>
<circle cx="344.0" cy="370.0" r="1.65" fill="#4a4690" stroke="#2c2a56"/>
<circle cx="347.0" cy="368.0" r="1.65" fill="#4a4690" stroke="#2c2a56"/>
<circle cx="343.0" cy="362.0" r="1.65" fill="#4a4690" stroke="#2c2a56"/>
<circle cx="404.1" cy="268.0" r="1.65" fill="#3182bd" stroke="#1d4e71"/>
<circle cx="409.4" cy="274.8" r="1.65" fill="#c7c7c7" stroke="#777777"/>
<circle cx="395.8" cy="281.6" r="1.65" fill="#8a9a30" stroke="#525c1c"/>
<circle cx="422.1" cy="319.2" r="1.65" fill="#e7969c" stroke="#8a5a5d"/>
<circle cx="394.0" cy="335.0" r="1.65" fill="#aec7e8" stroke="#68778b"/>
<circle cx="397.8" cy="333.5" r="1.65" fill="#aec7e8" stroke="#68778b"/>
<circle cx="400.0" cy="338.8" r="1.65" fill="#aec7e8" stroke="#68778b"/>
<circle cx="405.3" cy="337.3" r="1.65" fill="#aec7e8" stroke="#68778b"/>
<circle cx="401.6" cy="342.6" r="1.65" fill="#aec7e8" stroke="#68778b"/>
<circle cx="402.3" cy="350.0" r="1.65" fill="#aec7e8" stroke="#68778b"/>
<circle cx="412.9" cy="347.8" r="1.65" fill="#aec7e8" stroke="#68778b"/>
<circle cx="398.6" cy="340.3" r="1.65" fill="#aec7e8" stroke="#68778b"/>
<circle cx="422.6" cy="342.6" r="1.65" fill="#d62728" stroke="#801718"/>
<circle cx="421.1" cy="350.0" r="1.65" fill="#d62728" stroke="#801718"/>
<circle cx="419.6" cy="354.6" r="1.65" fill="#d62728" stroke="#801718"/>
<circle cx="423.4" cy="356.8" r="1.65" fill="#d62728" stroke="#801718"/>
<circle cx="418.1" cy="359.0" r="1.65" fill="#d62728" stroke="#801718"/>
<circle cx="421.9" cy="361.4" r="1.65" fill="#d62728" stroke="#801718"/>
<circle cx="418.1" cy="366.6" r="1.65" fill="#d62728" stroke="#801718"/>
<circle cx="418.9" cy="369.6" r="1.65" fill="#d62728" stroke="#801718"/>
<circle cx="395.6" cy="351.6" r="1.65" fill="#843c39" stroke="#4f2422"/>
<circle cx="458.0" cy="366.0" r="1.65" fill="#9edae5" stroke="#5e8289"/>
<circle cx="463.0" cy="365.0" r="1.65" fill="#9edae5" stroke="#5e8289"/>
<circle cx="467.0" cy="368.0" r="1.65" fill="#9edae5" stroke="#5e8289"/>
<circle cx="457.0" cy="371.0" r="1.65" fill="#9edae5" stroke="#5e8289"/>
<circle cx="462.0" cy="371.0" r="1.65" fill="#9edae5" stroke="#5e8289"/>
<circle cx="467.0" cy="373.0" r="1.65" fill="#9edae5" stroke="#5e8289"/>
<circle cx="459.0" cy="376.0" r="1.65" fill="#9edae5" stroke="#5e8289"/>
<circle cx="464.0" cy="377.0" r="1.65" fill="#9edae5" stroke="#5e8289"/>
<circle cx="461.0" cy="368.0" r="1.65" fill="#9edae5" stroke="#5e8289"/>
<circle cx="465.0" cy="380.0" r="1.65" fill="#9edae5" stroke="#5e8289"/>
<circle cx="460.0" cy="373.0" r="1.65" fill="#9edae5" stroke="#5e8289"/>
<circle cx="463.0" cy="369.0" r="1.65" fill="#6bc0d0" stroke="#40737c"/>
<circle cx="466.0" cy="376.0" r="1.65" fill="#6bc0d0" stroke="#40737c"/>
<circle cx="388.0" cy="384.7" r="1.65" fill="#e7969c" stroke="#8a5a5d"/>
<circle cx="392.6" cy="386.2" r="1.65" fill="#e7969c" stroke="#8a5a5d"/>
<circle cx="388.8" cy="390.7" r="1.65" fill="#e7969c" stroke="#8a5a5d"/>
<circle cx="395.6" cy="390.7" r="1.65" fill="#e7969c" stroke="#8a5a5d"/>
<circle cx="396.3" cy="396.7" r="1.65" fill="#e7969c" stroke="#8a5a5d"/>
<circle cx="394.8" cy="393.7" r="1.65" fill="#e7969c" stroke="#8a5a5d"/>
<circle cx="412.9" cy="392.2" r="1.65" fill="#843c39" stroke="#4f2422"/>
<circle cx="413.6" cy="396.7" r="1.65" fill="#843c39" stroke="#4f2422"/>
<circle cx="410.6" cy="394.4" r="1.65" fill="#843c39" stroke="#4f2422"/>
<circle cx="409.8" cy="401.2" r="1.65" fill="#843c39" stroke="#4f2422"/>
<circle cx="554.3" cy="348.2" r="1.65" fill="#ffbb78" stroke="#997048"/>
<circle cx="551.1" cy="353.0" r="1.65" fill="#ffbb78" stroke="#997048"/>
<circle cx="559.0" cy="352.0" r="1.65" fill="#ffbb78" stroke="#997048"/>
<circle cx="555.8" cy="356.0" r="1.65" fill="#ffbb78" stroke="#997048"/>
<circle cx="562.0" cy="356.0" r="1.65" fill="#ffbb78" stroke="#997048"/>
<circle cx="552.7" cy="359.2" r="1.65" fill="#ffbb78" stroke="#997048"/>
<circle cx="557.4" cy="361.5" r="1.65" fill="#ffbb78" stroke="#997048"/>
<circle cx="555.0" cy="364.0" r="1.65" fill="#ffbb78" stroke="#997048"/>
<circle cx="557.0" cy="358.0" r="1.65" fill="#ffbb78" stroke="#997048"/>
<circle cx="554.0" cy="354.0" r="1.65" fill="#ffbb78" stroke="#997048"/>
<circle cx="518.2" cy="393.7" r="1.65" fill="#b5cf6b" stroke="#6c7c40"/>
<circle cx="522.9" cy="396.8" r="1.65" fill="#b5cf6b" stroke="#6c7c40"/>
<circle cx="530.0" cy="392.0" r="1.65" fill="#b5cf6b" stroke="#6c7c40"/>
<circle cx="540.2" cy="392.0" r="1.65" fill="#b5cf6b" stroke="#6c7c40"/>
<circle cx="529.2" cy="398.4" r="1.65" fill="#b5cf6b" stroke="#6c7c40"/>
<circle cx="535.5" cy="400.0" r="1.65" fill="#b5cf6b" stroke="#6c7c40"/>
<circle cx="540.2" cy="403.0" r="1.65" fill="#b5cf6b" stroke="#6c7c40"/>
<circle cx="526.8" cy="403.0" r="1.65" fill="#b5cf6b" stroke="#6c7c40"/>
<circle cx="532.3" cy="404.6" r="1.65" fill="#b5cf6b" stroke="#6c7c40"/>
<circle cx="543.3" cy="404.6" r="1.65" fill="#b5cf6b" stroke="#6c7c40"/>
<circle cx="523.7" cy="409.3" r="1.65" fill="#b5cf6b" stroke="#6c7c40"/>
<circle cx="532.3" cy="410.1" r="1.65" fill="#b5cf6b" stroke="#6c7c40"/>
<circle cx="536.2" cy="407.0" r="1.65" fill="#b5cf6b" stroke="#6c7c40"/>
<circle cx="526.0" cy="406.0" r="1.65" fill="#b5cf6b" stroke="#6c7c40"/>
<circle cx="531.0" cy="401.0" r="1.65" fill="#b5cf6b" stroke="#6c7c40"/>
<circle cx="291.6" cy="399.5" r="1.65" fill="#e377c2" stroke="#884774"/>
<circle cx="296.1" cy="405.6" r="1.65" fill="#e377c2" stroke="#884774"/>
<circle cx="305.1" cy="407.0" r="1.65" fill="#e377c2" stroke="#884774"/>
<circle cx="296.8" cy="410.0" r="1.65" fill="#e377c2" stroke="#884774"/>
<circle cx="297.6" cy="414.6" r="1.65" fill="#e377c2" stroke="#884774"/>
<circle cx="300.6" cy="416.8" r="1.65" fill="#e377c2" stroke="#884774"/>
<circle cx="302.9" cy="419.8" r="1.65" fill="#e377c2" stroke="#884774"/>
<circle cx="299.1" cy="421.4" r="1.65" fill="#e377c2" stroke="#884774"/>
<circle cx="309.6" cy="423.6" r="1.65" fill="#e377c2" stroke="#884774"/>
<circle cx="313.4" cy="426.6" r="1.65" fill="#b8b8b8" stroke="#6e6e6e"/>
<circle cx="310.4" cy="435.6" r="1.65" fill="#b8b8b8" stroke="#6e6e6e"/>
<circle cx="315.6" cy="444.7" r="1.65" fill="#b8b8b8" stroke="#6e6e6e"/>
<circle cx="310.4" cy="450.7" r="1.65" fill="#b8b8b8" stroke="#6e6e6e"/>
<circle cx="353.2" cy="422.1" r="1.65" fill="#a55194" stroke="#633058"/>
<circle cx="351.0" cy="425.0" r="1.65" fill="#a55194" stroke="#633058"/>
<circle cx="356.2" cy="428.1" r="1.65" fill="#a55194" stroke="#633058"/>
<circle cx="353.2" cy="431.9" r="1.65" fill="#a55194" stroke="#633058"/>
<circle cx="359.2" cy="431.9" r="1.65" fill="#a55194" stroke="#633058"/>
<circle cx="365.3" cy="414.6" r="1.65" fill="#a55194" stroke="#633058"/>
<circle cx="368.3" cy="417.6" r="1.65" fill="#a55194" stroke="#633058"/>
<circle cx="371.3" cy="422.1" r="1.65" fill="#a55194" stroke="#633058"/>
<circle cx="363.8" cy="422.9" r="1.65" fill="#a55194" stroke="#633058"/>
<circle cx="365.3" cy="425.9" r="1.65" fill="#a55194" stroke="#633058"/>
<circle cx="354.0" cy="427.0" r="1.65" fill="#a55194" stroke="#633058"/>
<circle cx="365.3" cy="439.4" r="1.65" fill="#7b4173" stroke="#492745"/>
<circle cx="303.6" cy="460.0" r="1.65" fill="#c49c94" stroke="#755d58"/>
<circle cx="299.0" cy="465.3" r="1.65" fill="#c49c94" stroke="#755d58"/>
<circle cx="305.0" cy="466.0" r="1.65" fill="#c49c94" stroke="#755d58"/>
<circle cx="295.3" cy="471.3" r="1.65" fill="#c49c94" stroke="#755d58"/>
<circle cx="302.0" cy="470.6" r="1.65" fill="#c49c94" stroke="#755d58"/>
<circle cx="310.3" cy="468.3" r="1.65" fill="#c49c94" stroke="#755d58"/>
<circle cx="299.8" cy="475.8" r="1.65" fill="#c49c94" stroke="#755d58"/>
<circle cx="307.3" cy="477.3" r="1.65" fill="#c49c94" stroke="#755d58"/>
<circle cx="304.3" cy="473.6" r="1.65" fill="#c49c94" stroke="#755d58"/>
<circle cx="296.0" cy="473.6" r="1.65" fill="#c49c94" stroke="#755d58"/>
<circle cx="301.0" cy="468.0" r="1.65" fill="#c49c94" stroke="#755d58"/>
<circle cx="316.4" cy="467.6" r="1.65" fill="#c0c0c0" stroke="#737373"/>
<circle cx="317.9" cy="474.3" r="1.65" fill="#c0c0c0" stroke="#737373"/>
<circle cx="324.6" cy="469.0" r="1.65" fill="#c0c0c0" stroke="#737373"/>
<circle cx="329.9" cy="464.5" r="1.65" fill="#c0c0c0" stroke="#737373"/>
<circle cx="359.2" cy="498.4" r="1.65" fill="#636363" stroke="#3b3b3b"/>
<circle cx="359.2" cy="511.2" r="1.65" fill="#dbdb8d" stroke="#838354"/>
<circle cx="361.5" cy="529.2" r="1.65" fill="#c7c7c7" stroke="#777777"/>
<circle cx="361.5" cy="538.2" r="1.65" fill="#c7c7c7" stroke="#777777"/>
<circle cx="389.3" cy="442.6" r="1.65" fill="#5254a3" stroke="#313261"/>
<circle cx="396.0" cy="448.6" r="1.65" fill="#5254a3" stroke="#313261"/>
<circle cx="407.3" cy="448.6" r="1.65" fill="#5254a3" stroke="#313261"/>
<circle cx="409.6" cy="451.6" r="1.65" fill="#5254a3" stroke="#313261"/>
<circle cx="393.8" cy="446.3" r="1.65" fill="#8ca252" stroke="#546131"/>
<circle cx="394.5" cy="469.6" r="1.65" fill="#8ca252" stroke="#546131"/>
<circle cx="397.6" cy="469.6" r="1.65" fill="#8ca252" stroke="#546131"/>
<circle cx="391.5" cy="437.3" r="1.65" fill="#c7c7c7" stroke="#777777"/>
<circle cx="389.3" cy="458.3" r="1.65" fill="#c7c7c7" stroke="#777777"/>
<circle cx="384.0" cy="468.0" r="1.65" fill="#c7c7c7" stroke="#777777"/>
<circle cx="383.3" cy="467.6" r="1.65" fill="#c5b0d5" stroke="#76697f"/>
<circle cx="421.6" cy="447.8" r="1.65" fill="#8ca252" stroke="#546131"/>
<circle cx="427.6" cy="444.8" r="1.65" fill="#8ca252" stroke="#546131"/>
<circle cx="426.9" cy="451.6" r="1.65" fill="#8ca252" stroke="#546131"/>
<circle cx="418.6" cy="456.0" r="1.65" fill="#8ca252" stroke="#546131"/>
<circle cx="423.1" cy="456.0" r="1.65" fill="#8ca252" stroke="#546131"/>
<circle cx="430.6" cy="454.6" r="1.65" fill="#8ca252" stroke="#546131"/>
<circle cx="433.6" cy="460.6" r="1.65" fill="#8ca252" stroke="#546131"/>
<circle cx="439.7" cy="460.6" r="1.65" fill="#8ca252" stroke="#546131"/>
<circle cx="431.4" cy="464.4" r="1.65" fill="#8ca252" stroke="#546131"/>
<circle cx="437.4" cy="465.1" r="1.65" fill="#8ca252" stroke="#546131"/>
<circle cx="441.9" cy="466.6" r="1.65" fill="#8ca252" stroke="#546131"/>
<circle cx="435.2" cy="468.1" r="1.65" fill="#8ca252" stroke="#546131"/>
<circle cx="435.9" cy="472.6" r="1.65" fill="#8ca252" stroke="#546131"/>
<circle cx="434.0" cy="463.0" r="1.65" fill="#8ca252" stroke="#546131"/>
<circle cx="401.3" cy="476.4" r="1.65" fill="#6b6ecf" stroke="#40427c"/>
<circle cx="397.6" cy="480.9" r="1.65" fill="#6b6ecf" stroke="#40427c"/>
<circle cx="400.6" cy="487.7" r="1.65" fill="#6b6ecf" stroke="#40427c"/>
<circle cx="409.6" cy="480.9" r="1.65" fill="#6b6ecf" stroke="#40427c"/>
<circle cx="414.1" cy="481.7" r="1.65" fill="#6b6ecf" stroke="#40427c"/>
<circle cx="414.1" cy="486.2" r="1.65" fill="#6b6ecf" stroke="#40427c"/>
<circle cx="421.6" cy="480.2" r="1.65" fill="#6b6ecf" stroke="#40427c"/>
<circle cx="424.6" cy="477.9" r="1.65" fill="#6b6ecf" stroke="#40427c"/>
<circle cx="387.0" cy="474.9" r="1.65" fill="#e7969c" stroke="#8a5a5d"/>
<circle cx="387.0" cy="475.0" r="1.65" fill="#e7969c" stroke="#8a5a5d"/>
<circle cx="391.5" cy="488.4" r="1.65" fill="#ff9896" stroke="#995b5a"/>
<circle cx="388.5" cy="492.2" r="1.65" fill="#ff9896" stroke="#995b5a"/>
<circle cx="394.5" cy="492.2" r="1.65" fill="#ff9896" stroke="#995b5a"/>
<circle cx="391.5" cy="495.9" r="1.65" fill="#ff9896" stroke="#995b5a"/>
<circle cx="399.0" cy="493.7" r="1.65" fill="#ff9896" stroke="#995b5a"/>
<circle cx="400.6" cy="498.2" r="1.65" fill="#ff9896" stroke="#995b5a"/>
<circle cx="397.6" cy="496.7" r="1.65" fill="#ff9896" stroke="#995b5a"/>
<circle cx="393.8" cy="484.7" r="1.65" fill="#ff9896" stroke="#995b5a"/>
<circle cx="360.9" cy="529.1" r="1.65" fill="#c7c7c7" stroke="#777777"/>
<circle cx="361.7" cy="539.6" r="1.65" fill="#c7c7c7" stroke="#777777"/>
<circle cx="357.9" cy="544.9" r="1.65" fill="#aec7e8" stroke="#68778b"/>
<circle cx="351.1" cy="551.7" r="1.65" fill="#e7ba52" stroke="#8a6f31"/>
<circle cx="363.2" cy="553.9" r="1.65" fill="#e7ba52" stroke="#8a6f31"/>
<circle cx="354.9" cy="556.2" r="1.65" fill="#e7ba52" stroke="#8a6f31"/>
<circle cx="359.4" cy="558.4" r="1.65" fill="#e7ba52" stroke="#8a6f31"/>
<circle cx="356.4" cy="560.7" r="1.65" fill="#e7ba52" stroke="#8a6f31"/>
<circle cx="361.7" cy="560.7" r="1.65" fill="#e7ba52" stroke="#8a6f31"/>
<circle cx="365.4" cy="562.9" r="1.65" fill="#e7ba52" stroke="#8a6f31"/>
<circle cx="357.1" cy="563.7" r="1.65" fill="#e7ba52" stroke="#8a6f31"/>
<circle cx="351.9" cy="567.4" r="1.65" fill="#e7ba52" stroke="#8a6f31"/>
<circle cx="361.7" cy="568.2" r="1.65" fill="#e7ba52" stroke="#8a6f31"/>
<circle cx="345.1" cy="566.7" r="1.65" fill="#e7cb94" stroke="#8a7958"/>
<circle cx="346.6" cy="570.5" r="1.65" fill="#e7cb94" stroke="#8a7958"/>
<circle cx="334.6" cy="572.0" r="1.65" fill="#e7cb94" stroke="#8a7958"/>
<circle cx="339.8" cy="574.2" r="1.65" fill="#e7cb94" stroke="#8a7958"/>
<circle cx="337.6" cy="576.5" r="1.65" fill="#e7cb94" stroke="#8a7958"/>
<circle cx="342.9" cy="577.2" r="1.65" fill="#e7cb94" stroke="#8a7958"/>
<circle cx="336.0" cy="574.0" r="1.65" fill="#e7cb94" stroke="#8a7958"/>
<circle cx="460.8" cy="127.8" r="1.65" fill="#7b4173" stroke="#492745"/>
<circle cx="433.0" cy="148.0" r="1.65" fill="#7b4173" stroke="#492745"/>
<circle cx="436.0" cy="151.9" r="1.65" fill="#7b4173" stroke="#492745"/>
<circle cx="439.0" cy="153.4" r="1.65" fill="#7b4173" stroke="#492745"/>
<circle cx="462.3" cy="171.4" r="1.65" fill="#7b4173" stroke="#492745"/>
<circle cx="466.0" cy="178.2" r="1.65" fill="#7b4173" stroke="#492745"/>
<circle cx="464.6" cy="182.0" r="1.65" fill="#7b4173" stroke="#492745"/>
<circle cx="457.8" cy="184.2" r="1.65" fill="#7b4173" stroke="#492745"/>
<circle cx="463.0" cy="186.5" r="1.65" fill="#7b4173" stroke="#492745"/>
<circle cx="467.6" cy="181.2" r="1.65" fill="#7b4173" stroke="#492745"/>
<circle cx="446.5" cy="132.3" r="1.65" fill="#3182bd" stroke="#1d4e71"/>
<circle cx="444.3" cy="135.3" r="1.65" fill="#3182bd" stroke="#1d4e71"/>
<circle cx="451.0" cy="135.3" r="1.65" fill="#f7b6d2" stroke="#946d7e"/>
<circle cx="439.0" cy="144.4" r="1.65" fill="#17becf" stroke="#0d727c"/>
<circle cx="473.6" cy="173.7" r="1.65" fill="#17becf" stroke="#0d727c"/>
<circle cx="433.8" cy="160.2" r="1.65" fill="#843c39" stroke="#4f2422"/>
<circle cx="481.1" cy="176.7" r="1.65" fill="#843c39" stroke="#4f2422"/>
<circle cx="474.4" cy="181.2" r="1.65" fill="#843c39" stroke="#4f2422"/>
<circle cx="475.1" cy="184.2" r="1.65" fill="#843c39" stroke="#4f2422"/>
<circle cx="448.0" cy="154.1" r="1.65" fill="#c5b0d5" stroke="#76697f"/>
<circle cx="443.5" cy="157.1" r="1.65" fill="#c5b0d5" stroke="#76697f"/>
<circle cx="467.6" cy="151.9" r="1.65" fill="#9a9a9a" stroke="#5c5c5c"/>
<circle cx="467.6" cy="161.7" r="1.65" fill="#9a9a9a" stroke="#5c5c5c"/>
<circle cx="470.6" cy="166.2" r="1.65" fill="#dbdb8d" stroke="#838354"/>
<circle cx="459.3" cy="168.4" r="1.65" fill="#aec7e8" stroke="#68778b"/>
<circle cx="474.4" cy="194.0" r="1.65" fill="#8c564b" stroke="#54332d"/>
<circle cx="480.4" cy="194.0" r="1.65" fill="#8c564b" stroke="#54332d"/>
<circle cx="428.0" cy="152.0" r="1.65" fill="#a55194" stroke="#633058"/>
<circle cx="395.0" cy="153.8" r="1.65" fill="#de9ed6" stroke="#855e80"/>
<circle cx="390.0" cy="161.0" r="1.65" fill="#de9ed6" stroke="#855e80"/>
<circle cx="388.8" cy="165.0" r="1.65" fill="#de9ed6" stroke="#855e80"/>
<circle cx="389.4" cy="168.8" r="1.65" fill="#de9ed6" stroke="#855e80"/>
<circle cx="396.2" cy="162.5" r="1.65" fill="#ad494a" stroke="#672b2c"/>
<circle cx="406.9" cy="160.0" r="1.65" fill="#ad494a" stroke="#672b2c"/>
<circle cx="416.9" cy="159.4" r="1.65" fill="#ad494a" stroke="#672b2c"/>
<circle cx="423.8" cy="158.8" r="1.65" fill="#ad494a" stroke="#672b2c"/>
<circle cx="422.5" cy="162.5" r="1.65" fill="#ad494a" stroke="#672b2c"/>
<circle cx="420.0" cy="165.6" r="1.65" fill="#ad494a" stroke="#672b2c"/>
<circle cx="410.6" cy="166.2" r="1.65" fill="#ad494a" stroke="#672b2c"/>
<circle cx="401.2" cy="169.4" r="1.65" fill="#ad494a" stroke="#672b2c"/>
<circle cx="404.4" cy="173.8" r="1.65" fill="#ad494a" stroke="#672b2c"/>
<circle cx="406.9" cy="176.9" r="1.65" fill="#ad494a" stroke="#672b2c"/>
<circle cx="393.8" cy="179.4" r="1.65" fill="#ad494a" stroke="#672b2c"/>
<circle cx="391.2" cy="182.5" r="1.65" fill="#ad494a" stroke="#672b2c"/>
<circle cx="413.1" cy="201.9" r="1.65" fill="#ad494a" stroke="#672b2c"/>
<circle cx="433.8" cy="160.0" r="1.65" fill="#843c39" stroke="#4f2422"/>
<circle cx="411.9" cy="173.0" r="1.65" fill="#6b6ecf" stroke="#40427c"/>
<circle cx="418.1" cy="173.0" r="1.65" fill="#6b6ecf" stroke="#40427c"/>
<circle cx="413.8" cy="176.9" r="1.65" fill="#6b6ecf" stroke="#40427c"/>
<circle cx="418.1" cy="176.9" r="1.65" fill="#6b6ecf" stroke="#40427c"/>
<circle cx="421.2" cy="186.9" r="1.65" fill="#6b6ecf" stroke="#40427c"/>
<circle cx="416.2" cy="192.5" r="1.65" fill="#6b6ecf" stroke="#40427c"/>
<circle cx="420.0" cy="205.6" r="1.65" fill="#393b79" stroke="#222348"/>
<circle cx="375.6" cy="171.2" r="1.65" fill="#dbdb8d" stroke="#838354"/>
<circle cx="373.8" cy="203.8" r="1.65" fill="#dbdb8d" stroke="#838354"/>
<circle cx="381.2" cy="201.2" r="1.65" fill="#dbdb8d" stroke="#838354"/>
<circle cx="382.5" cy="208.8" r="1.65" fill="#dbdb8d" stroke="#838354"/>
<circle cx="408.0" cy="205.6" r="1.65" fill="#dbdb8d" stroke="#838354"/>
<circle cx="382.5" cy="170.6" r="1.65" fill="#666a88" stroke="#3d3f51"/>
<circle cx="382.5" cy="180.0" r="1.65" fill="#1f77b4" stroke="#12476c"/>
<circle cx="385.0" cy="183.8" r="1.65" fill="#1f77b4" stroke="#12476c"/>
<circle cx="378.8" cy="187.5" r="1.65" fill="#1f77b4" stroke="#12476c"/>
<circle cx="388.1" cy="190.6" r="1.65" fill="#1f77b4" stroke="#12476c"/>
<circle cx="390.0" cy="193.0" r="1.65" fill="#1f77b4" stroke="#12476c"/>
<circle cx="375.0" cy="195.0" r="1.65" fill="#1f77b4" stroke="#12476c"/>
<circle cx="374.4" cy="198.0" r="1.65" fill="#1f77b4" stroke="#12476c"/>
<circle cx="402.1" cy="211.5" r="1.65" fill="#3182bd" stroke="#1d4e71"/>
<circle cx="404.4" cy="216.0" r="1.65" fill="#d62728" stroke="#801718"/>
<circle cx="430.0" cy="228.8" r="1.65" fill="#d62728" stroke="#801718"/>
<circle cx="377.3" cy="214.5" r="1.65" fill="#e7969c" stroke="#8a5a5d"/>
<circle cx="378.0" cy="219.8" r="1.65" fill="#e7969c" stroke="#8a5a5d"/>
<circle cx="415.6" cy="216.0" r="1.65" fill="#c5b0d5" stroke="#76697f"/>
<circle cx="377.3" cy="235.6" r="1.65" fill="#c5b0d5" stroke="#76697f"/>
<circle cx="381.0" cy="238.6" r="1.65" fill="#c5b0d5" stroke="#76697f"/>
<circle cx="376.5" cy="242.4" r="1.65" fill="#c5b0d5" stroke="#76697f"/>
<circle cx="369.0" cy="238.6" r="1.65" fill="#c5b0d5" stroke="#76697f"/>
<circle cx="420.2" cy="218.3" r="1.65" fill="#31a354" stroke="#1d6132"/>
<circle cx="427.7" cy="215.3" r="1.65" fill="#17becf" stroke="#0d727c"/>
<circle cx="424.7" cy="225.8" r="1.65" fill="#17becf" stroke="#0d727c"/>
<circle cx="433.0" cy="226.6" r="1.65" fill="#17becf" stroke="#0d727c"/>
<circle cx="430.7" cy="218.3" r="1.65" fill="#9467bd" stroke="#583d71"/>
<circle cx="433.7" cy="215.3" r="1.65" fill="#ce6dbd" stroke="#7b4171"/>
<circle cx="373.5" cy="230.3" r="1.65" fill="#1f77b4" stroke="#12476c"/>
<circle cx="475.0" cy="200.0" r="1.65" fill="#8c6d31" stroke="#54411d"/>
<circle cx="477.5" cy="201.2" r="1.65" fill="#8c6d31" stroke="#54411d"/>
<circle cx="470.0" cy="206.2" r="1.65" fill="#8c6d31" stroke="#54411d"/>
<circle cx="480.0" cy="205.6" r="1.65" fill="#8c6d31" stroke="#54411d"/>
<circle cx="468.0" cy="210.6" r="1.65" fill="#8c6d31" stroke="#54411d"/>
<circle cx="482.5" cy="210.0" r="1.65" fill="#8c6d31" stroke="#54411d"/>
<circle cx="486.2" cy="208.8" r="1.65" fill="#8c6d31" stroke="#54411d"/>
<circle cx="471.2" cy="208.8" r="1.65" fill="#8c6d31" stroke="#54411d"/>
<circle cx="334.5" cy="181.5" r="1.65" fill="#ff7f0e" stroke="#994c08"/>
<circle cx="186.0" cy="154.0" r="1.65" fill="#de9ed6" stroke="#855e80"/>
<circle cx="183.0" cy="159.0" r="1.65" fill="#de9ed6" stroke="#855e80"/>
<circle cx="187.0" cy="159.0" r="1.65" fill="#de9ed6" stroke="#855e80"/>
<circle cx="190.0" cy="156.0" r="1.65" fill="#de9ed6" stroke="#855e80"/>
<circle cx="185.0" cy="157.0" r="1.65" fill="#de9ed6" stroke="#855e80"/>
<circle cx="297.0" cy="462.0" r="1.65" fill="#c49c94" stroke="#755d58"/>
<circle cx="307.0" cy="462.0" r="1.65" fill="#c49c94" stroke="#755d58"/>
<circle cx="296.0" cy="467.0" r="1.65" fill="#c49c94" stroke="#755d58"/>
<circle cx="309.0" cy="473.0" r="1.65" fill="#c49c94" stroke="#755d58"/>
<circle cx="303.0" cy="476.0" r="1.65" fill="#c49c94" stroke="#755d58"/>
<circle cx="298.0" cy="477.0" r="1.65" fill="#c49c94" stroke="#755d58"/>
<circle cx="389.0" cy="486.0" r="1.65" fill="#ff9896" stroke="#995b5a"/>
<circle cx="396.0" cy="489.0" r="1.65" fill="#ff9896" stroke="#995b5a"/>
<circle cx="392.0" cy="499.0" r="1.65" fill="#ff9896" stroke="#995b5a"/>
<circle cx="395.0" cy="496.0" r="1.65" fill="#ff9896" stroke="#995b5a"/>
<circle cx="390.0" cy="490.0" r="1.65" fill="#ff9896" stroke="#995b5a"/>
<circle cx="455.0" cy="367.0" r="1.65" fill="#9edae5" stroke="#5e8289"/>
<circle cx="469.0" cy="366.0" r="1.65" fill="#9edae5" stroke="#5e8289"/>
<circle cx="455.0" cy="375.0" r="1.65" fill="#9edae5" stroke="#5e8289"/>
<circle cx="469.0" cy="379.0" r="1.65" fill="#9edae5" stroke="#5e8289"/>
<circle cx="461.0" cy="381.0" r="1.65" fill="#9edae5" stroke="#5e8289"/>
<circle cx="466.0" cy="382.0" r="1.65" fill="#9edae5" stroke="#5e8289"/>
<circle cx="457.0" cy="380.0" r="1.65" fill="#9edae5" stroke="#5e8289"/>
<circle cx="463.0" cy="363.0" r="1.65" fill="#9edae5" stroke="#5e8289"/>
<circle cx="228.0" cy="222.0" r="1.65" fill="#f7b6d2" stroke="#946d7e"/>
</g>
</svg></body></html>
